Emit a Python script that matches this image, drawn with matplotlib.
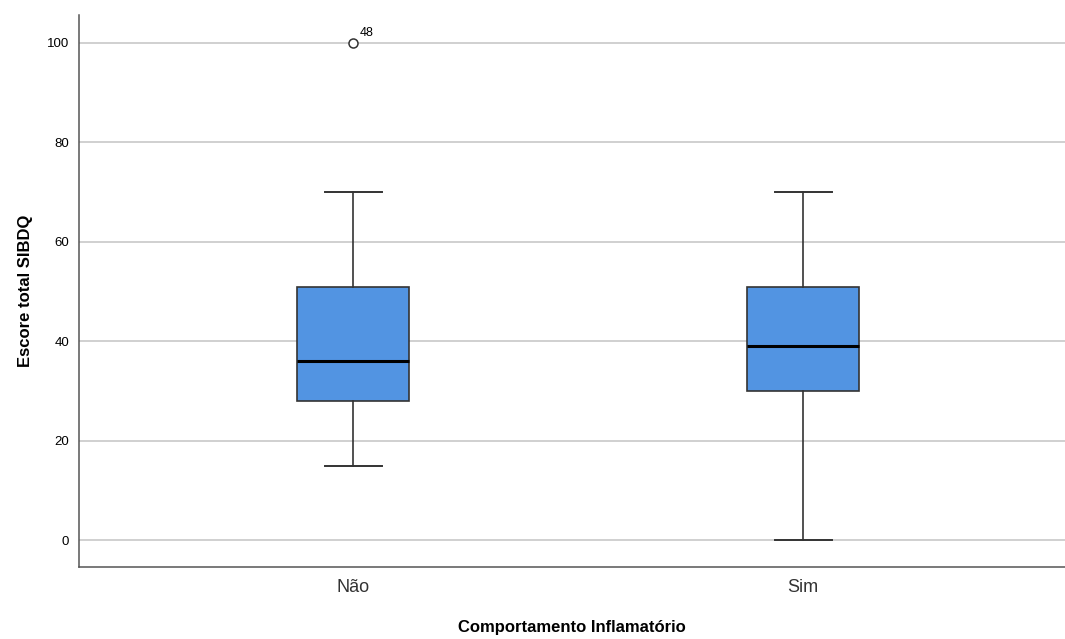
"""Boxplot of SIBDQ total score by inflammatory behaviour."""

import matplotlib
matplotlib.use("Agg")
import matplotlib.pyplot as plt

plt.rcParams['font.family'] = ['Liberation Sans', 'DejaVu Sans']

categories = ["Não", "Sim"]
q1 = [28, 30]
medians = [36, 39]
q3 = [51, 51]
whisker_low = [15, 0]
whisker_high = [70, 70]
outliers = [[100], []]
outlier_labels = [["48"], []]
y_ticks = [0, 20, 40, 60, 80, 100]

box_color = '#5294E2'
edge_color = '#333333'

stats = []
for i, cat in enumerate(categories):
    stats.append({
        'label': cat,
        'q1': q1[i],
        'med': medians[i],
        'q3': q3[i],
        'whislo': whisker_low[i],
        'whishi': whisker_high[i],
        'fliers': outliers[i],
    })

fig = plt.figure(figsize=(10.65, 6.39), dpi=100)
ax = fig.add_axes([0.0742, 0.1127, 0.9258, 0.8638])

positions = list(range(1, len(categories) + 1))
ax.bxp(stats, positions=positions, widths=0.249, patch_artist=True,
       boxprops=dict(facecolor=box_color, edgecolor=edge_color, linewidth=1.2),
       medianprops=dict(color='black', linewidth=2.2),
       whiskerprops=dict(color=edge_color, linewidth=1.2),
       capprops=dict(color=edge_color, linewidth=1.4),
       capwidths=0.127,
       flierprops=dict(marker='o', markerfacecolor='white', markeredgecolor=edge_color,
                       markersize=6.5, markeredgewidth=1.1),
       zorder=3)

for pos, vals, labs in zip(positions, outliers, outlier_labels):
    for v, lab in zip(vals, labs):
        ax.annotate(lab, (pos, v), xytext=(5, 3), textcoords='offset points',
                    fontsize=9, ha='left', va='bottom')

ax.set_xlim(0.391, 2.582)
ax.set_ylim(-5.4, 105.6)
ax.set_yticks(y_ticks)
ax.tick_params(axis='y', length=0, labelsize=9.5, pad=7)
ax.tick_params(axis='x', length=0, labelsize=13, pad=9)
ax.set_xticks(positions)
ax.set_xticklabels(categories, color='#333333')

ax.grid(axis='y', color='#c8c8c8', linewidth=1.2, zorder=0)
ax.set_axisbelow(True)
for side in ['top', 'right']:
    ax.spines[side].set_visible(False)
for side in ['left', 'bottom']:
    ax.spines[side].set_color('#555555')
    ax.spines[side].set_linewidth(1.1)

ax.set_ylabel("Escore total SIBDQ", fontsize=12, fontweight='bold', labelpad=10)
ax.set_xlabel("Comportamento Inflamatório", fontsize=12, fontweight='bold', labelpad=17)

fig.savefig("out.png", dpi=100)
